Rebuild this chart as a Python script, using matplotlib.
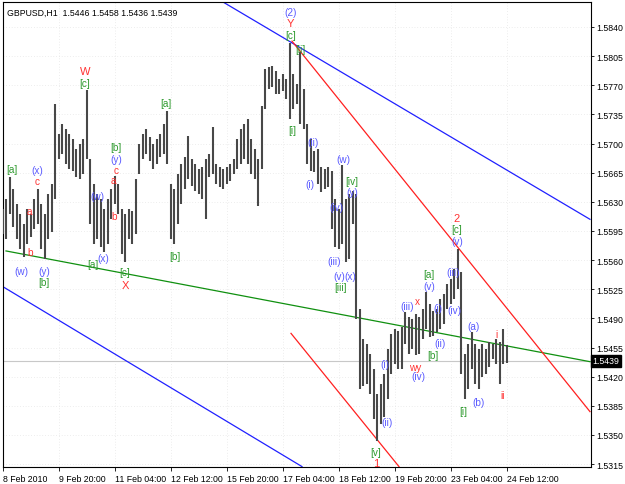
import matplotlib
matplotlib.use("Agg")
import matplotlib.pyplot as plt
import numpy as np

plt.rcParams["font.family"] = ["Liberation Sans", "DejaVu Sans"]

# ---- data (2-hour bars) ----
highs = [1.5621, 1.5633, 1.5660, 1.5645, 1.5627, 1.5615, 1.5603, 1.5621, 1.5615, 1.5633,
         1.5645, 1.5627, 1.5615, 1.5639, 1.5651, 1.5747, 1.5711, 1.5723, 1.5717, 1.5711,
         1.5705, 1.5693, 1.5699, 1.5705, 1.5764, 1.5681, 1.5651, 1.5639, 1.5633, 1.5621,
         1.5633, 1.5645, 1.5661, 1.5651, 1.5621, 1.5615, 1.5621, 1.5619, 1.5657, 1.5699,
         1.5711, 1.5717, 1.5708, 1.5699, 1.5705, 1.5711, 1.5723, 1.5739, 1.5651, 1.5645,
         1.5663, 1.5675, 1.5684, 1.5709, 1.5681, 1.5675, 1.5669, 1.5672, 1.5681, 1.5687,
         1.5720, 1.5675, 1.5672, 1.5669, 1.5672, 1.5675, 1.5681, 1.5705, 1.5717, 1.5723,
         1.5729, 1.5705, 1.5693, 1.5681, 1.5745, 1.5790, 1.5792, 1.5793, 1.5787, 1.5778,
         1.5783, 1.5778, 1.5821, 1.5783, 1.5772, 1.5810, 1.5766, 1.5723, 1.5705, 1.5691,
         1.5693, 1.5672, 1.5669, 1.5672, 1.5667, 1.5633, 1.5621, 1.5674, 1.5633, 1.5639,
         1.5643, 1.5639, 1.5501, 1.5465, 1.5459, 1.5447, 1.5429, 1.5399, 1.5411, 1.5423,
         1.5453, 1.5471, 1.5477, 1.5475, 1.5480, 1.5498, 1.5492, 1.5489, 1.5495, 1.5492,
         1.5501, 1.5522, 1.5507, 1.5499, 1.5501, 1.5513, 1.5519, 1.5531, 1.5537, 1.5549,
         1.5573, 1.5546, 1.5447, 1.5459, 1.5474, 1.5459, 1.5453, 1.5459, 1.5453, 1.5462,
         1.5459, 1.5465, 1.5462, 1.5477, 1.5458]
lows = [1.5591, 1.5585, 1.5615, 1.5600, 1.5585, 1.5573, 1.5564, 1.5579, 1.5588, 1.5597,
        1.5603, 1.5573, 1.5561, 1.5585, 1.5594, 1.5633, 1.5681, 1.5687, 1.5675, 1.5669,
        1.5667, 1.5660, 1.5657, 1.5663, 1.5681, 1.5603, 1.5579, 1.5585, 1.5576, 1.5570,
        1.5579, 1.5609, 1.5627, 1.5615, 1.5567, 1.5558, 1.5585, 1.5579, 1.5591, 1.5663,
        1.5681, 1.5687, 1.5679, 1.5669, 1.5675, 1.5684, 1.5687, 1.5675, 1.5585, 1.5579,
        1.5603, 1.5627, 1.5645, 1.5657, 1.5649, 1.5643, 1.5639, 1.5633, 1.5609, 1.5660,
        1.5663, 1.5651, 1.5648, 1.5645, 1.5651, 1.5655, 1.5663, 1.5669, 1.5675, 1.5681,
        1.5675, 1.5663, 1.5657, 1.5625, 1.5669, 1.5741, 1.5766, 1.5768, 1.5760, 1.5760,
        1.5763, 1.5753, 1.5729, 1.5741, 1.5747, 1.5723, 1.5717, 1.5675, 1.5667, 1.5666,
        1.5651, 1.5642, 1.5645, 1.5648, 1.5597, 1.5576, 1.5573, 1.5579, 1.5558, 1.5561,
        1.5603, 1.5489, 1.5405, 1.5409, 1.5411, 1.5399, 1.5369, 1.5343, 1.5363, 1.5372,
        1.5393, 1.5423, 1.5435, 1.5429, 1.5429, 1.5459, 1.5447, 1.5453, 1.5446, 1.5447,
        1.5465, 1.5477, 1.5468, 1.5469, 1.5474, 1.5477, 1.5483, 1.5501, 1.5507, 1.5513,
        1.5525, 1.5423, 1.5393, 1.5405, 1.5429, 1.5411, 1.5405, 1.5420, 1.5423, 1.5432,
        1.5441, 1.5435, 1.5411, 1.5435, 1.5436]

x_tick_labels = ["8 Feb 2010", "9 Feb 20:00", "11 Feb 04:00", "12 Feb 12:00", "15 Feb 20:00",
                 "17 Feb 04:00", "18 Feb 12:00", "19 Feb 20:00", "23 Feb 04:00", "24 Feb 12:00"]
x_tick_bars = [0, 16, 32, 48, 64, 80, 96, 112, 128, 144]
y_ticks = [1.5315, 1.5350, 1.5385, 1.5420, 1.5455, 1.5490, 1.5525, 1.5560, 1.5595,
           1.5630, 1.5665, 1.5700, 1.5735, 1.5770, 1.5805, 1.5840]
last_price = 1.5439
title = "GBPUSD,H1  1.5446 1.5458 1.5436 1.5439"

# trendlines: (bar0, price0, bar1, price1)
trend_blue_upper = (62.86, 1.5870, 167.71, 1.5609)
trend_blue_lower = (0.0, 1.5528, 85.43, 1.5312)
trend_green = (0.86, 1.5571, 167.71, 1.5438)
trend_red_upper = (82.57, 1.5823, 167.71, 1.5378)
trend_red_lower = (82.29, 1.5472, 113.14, 1.5312)

# wave labels: (text, bar, price, colour key)
wave_labels = [
    ("[a]", 2.57, 1.5669, "g"), ("(x)", 9.71, 1.5668, "b"), ("c", 9.71, 1.5655, "r"),
    ("a", 7.43, 1.5619, "r"), ("b", 7.71, 1.5570, "r"), ("(w)", 5.14, 1.5547, "b"),
    ("(y)", 11.71, 1.5547, "b"), ("[b]", 11.71, 1.5534, "g"), ("W", 23.43, 1.5787, "r"),
    ("[c]", 23.43, 1.5773, "g"), ("(w)", 26.86, 1.5637, "b"), ("[a]", 25.71, 1.5555, "g"),
    ("(x)", 28.57, 1.5563, "b"), ("[b]", 32.29, 1.5696, "g"), ("(y)", 32.29, 1.5681, "b"),
    ("c", 32.29, 1.5668, "r"), ("a", 31.43, 1.5656, "r"), ("b", 31.71, 1.5613, "r"),
    ("[c]", 34.86, 1.5546, "g"), ("X", 34.86, 1.5530, "r"), ("[a]", 46.57, 1.5749, "g"),
    ("[b]", 49.14, 1.5565, "g"), ("(2)", 82.29, 1.5858, "b"), ("Y", 82.0, 1.5845, "r"),
    ("[c]", 82.29, 1.5830, "g"), ("[ii]", 84.86, 1.5814, "g"), ("[i]", 82.57, 1.5716, "g"),
    ("(ii)", 88.57, 1.5702, "b"), ("(i)", 87.71, 1.5651, "b"), ("(w)", 97.14, 1.5681, "b"),
    ("[iv]", 99.71, 1.5655, "g"), ("(y)", 99.71, 1.5642, "b"), ("(iv)", 95.14, 1.5624, "b"),
    ("(iii)", 94.57, 1.5559, "b"), ("(v)", 96.0, 1.5541, "b"), ("(x)", 99.3, 1.5541, "b"),
    ("[iii]", 96.57, 1.5528, "g"), ("(iii)", 115.43, 1.5505, "b"), ("x", 118.29, 1.5511, "r"),
    ("(i)", 109.14, 1.5435, "b"), ("(ii)", 109.71, 1.5366, "b"), ("[v]", 106.57, 1.5330, "g"),
    ("1", 106.57, 1.5316, "r"), ("wy", 117.71, 1.5432, "r"), ("(iv)", 118.57, 1.5421, "b"),
    ("[b]", 122.86, 1.5446, "g"), ("(ii)", 124.86, 1.5460, "b"), ("(i)", 124.29, 1.5502, "b"),
    ("(iv)", 128.86, 1.5500, "b"), ("(iii)", 128.57, 1.5546, "b"), ("[a]", 121.71, 1.5543, "g"),
    ("(v)", 121.71, 1.5529, "b"), ("2", 129.71, 1.5611, "r"), ("[c]", 129.71, 1.5597, "g"),
    ("(v)", 129.71, 1.5583, "b"), ("(a)", 134.29, 1.5481, "b"), ("[i]", 131.43, 1.5379, "g"),
    ("(b)", 136.0, 1.5390, "b"), ("i", 141.14, 1.5471, "r"), ("ii", 142.86, 1.5398, "r"),
]

colours = {"r": "#ff3333", "g": "#2e9a2e", "b": "#5a5aff"}

# ---- figure ----
W, H = 625, 485
fig = plt.figure(figsize=(W / 100, H / 100), dpi=100)
fig.patch.set_facecolor("white")
ax = fig.add_axes([2.5 / W, (H - 468) / H, 588 / W, 465 / H])
ax.set_facecolor("white")

bars = np.arange(len(highs))
ax.set_xlim(-0.14, 167.86)
ax.set_ylim(1.53115, 1.5870)

# grid
for yt in y_ticks:
    ax.axhline(yt, color="#dcdcdc", lw=0.5, ls=(0, (1, 3)), zorder=0)
for xt in x_tick_bars:
    ax.axvline(xt, color="#dcdcdc", lw=0.5, ls=(0, (1, 3)), zorder=0)

# current price line
ax.axhline(last_price, color="#c8c8c8", lw=0.8, zorder=1)

# bars
ax.vlines(bars, lows, highs, color="#484848", lw=1.5, zorder=3)

# trendlines
for (b0, p0, b1, p1), c in [(trend_blue_upper, "#2020ff"), (trend_blue_lower, "#2020ff"),
                            (trend_green, "#109010"), (trend_red_upper, "#ff2020"),
                            (trend_red_lower, "#ff2020")]:
    ax.plot([b0, b1], [p0, p1], color=c, lw=0.9, zorder=2)

# wave labels
for txt, b, p, ck in wave_labels:
    fs = 8 if txt in ("W", "X", "Y", "1", "2") else 7.2
    ax.text(b, p, txt, color=colours[ck], fontsize=fs, ha="center", va="center", zorder=5)

# axes styling
for s in ["top", "left", "bottom", "right"]:
    ax.spines[s].set_color("black")
    ax.spines[s].set_linewidth(0.8)
ax.yaxis.tick_right()
ax.set_yticks(y_ticks)
ax.set_yticklabels([f"{v:.4f}" for v in y_ticks], fontsize=6.3)
ax.tick_params(axis="y", direction="out", length=2.5, width=0.6, pad=1.5)
ax.set_xticks(x_tick_bars)
ax.set_xticklabels(x_tick_labels, fontsize=6.3, ha="left")
ax.tick_params(axis="x", direction="out", length=3, width=0.6, pad=2)

# current price box
ax.text(1.003, last_price, f"{last_price:.4f}", transform=ax.get_yaxis_transform(),
        fontsize=6.3, color="white", ha="left", va="center",
        bbox=dict(boxstyle="square,pad=0.2", fc="black", ec="black"), zorder=6, clip_on=False)

# title
ax.text(0.008, 0.988, title, transform=ax.transAxes, fontsize=6.3, ha="left", va="top")

fig.savefig("out.png", dpi=100)
